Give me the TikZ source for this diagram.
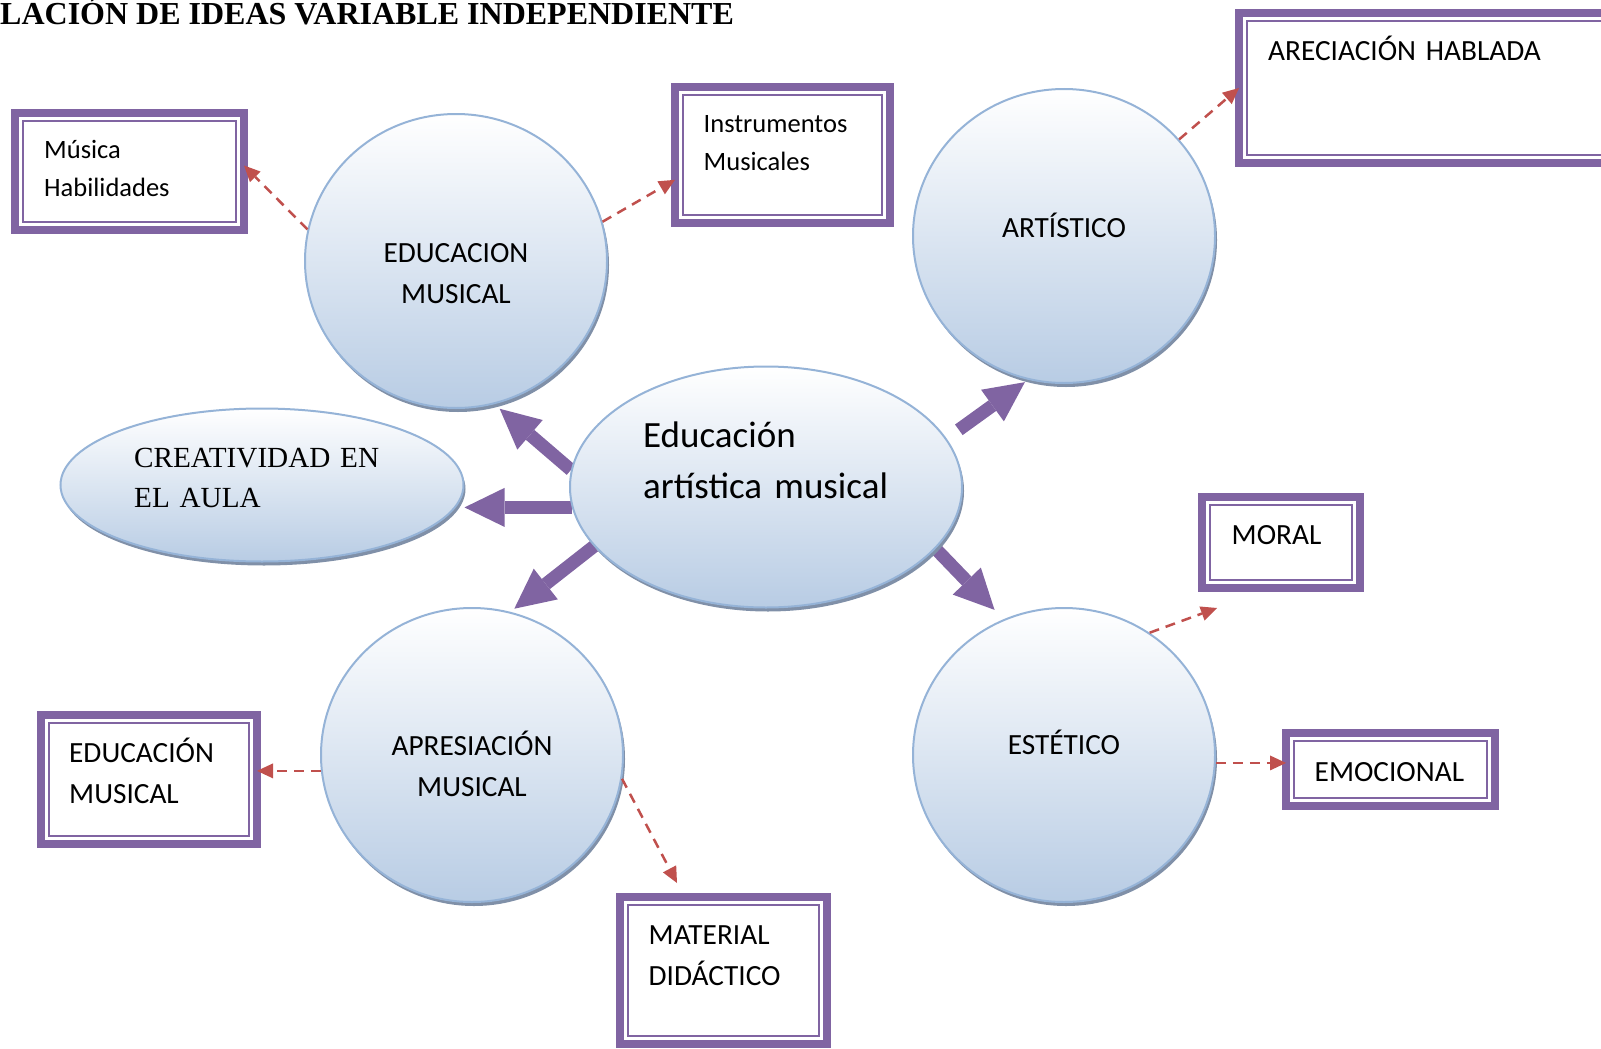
\documentclass[tikz,border=0pt]{standalone}
\usepackage{fontspec}
\setmainfont{Carlito}
\newfontfamily\timesfont{Liberation Serif}
\usetikzlibrary{arrows.meta}
\usetikzlibrary{calc}
\usetikzlibrary{shapes.geometric}
\usetikzlibrary{shadows}
\usetikzlibrary{backgrounds}
\definecolor{boxpurple}{RGB}{128,100,162}
\definecolor{dashred}{RGB}{192,80,77}
\definecolor{bubbleline}{RGB}{149,179,215}
\definecolor{bubblefill}{RGB}{184,204,228}
\definecolor{bubbleshadow}{RGB}{128,144,168}
\newcommand\boxfont{\fontsize{29.3}{41}\selectfont}
\newcommand\smallboxfont{\fontsize{26.5}{38}\selectfont}
\def\bubbleW{302pt}
\def\bubbleH{294pt}

\begin{document}
\begin{tikzpicture}[x=1pt,y=-1pt,
    bubble/.style={
      ellipse, draw=bubbleline, line width=2pt,
      top color=white, bottom color=bubblefill, inner sep=0pt,
      drop shadow={shadow xshift=2pt,shadow yshift=-4pt,fill=bubbleshadow,opacity=1}
    },
    frame/.style={
      rectangle, draw=boxpurple, line width=8pt, fill=white,
      inner sep=0pt, outer sep=0pt,
      path picture={
        \draw[boxpurple,line width=2.3pt]
          ([shift={(8pt,-8pt)}]path picture bounding box.north west) rectangle
          ([shift={(-8pt,8pt)}]path picture bounding box.south east);
      }
    },
    intext/.style={
      inner sep=0pt, anchor=base, text width=300pt, align=center, font=\boxfont
    },
    boxtext/.style={
      inner sep=0pt, anchor=base west, text width=320pt, align=left, font=\boxfont
    },
    bigarrow/.style={
      draw=boxpurple, line width=13pt,
      -{Triangle[length=40pt,width=39pt,line width'=0pt]}
    },
    dasharrow/.style={
      draw=dashred, line width=2.5pt, dash pattern=on 10pt off 7pt,
      -{Triangle[length=16pt,width=15pt,line width'=0pt]}
    }
  ]
    \useasboundingbox (0,0) rectangle (1601,1049);

    % title
    \node[anchor=base west, inner sep=0pt, font=\timesfont\bfseries\fontsize{32}{38}\selectfont]
      (title) at (0,25) {LACIÓN DE IDEAS VARIABLE INDEPENDIENTE};

    % bubbles
    \node[bubble, minimum width=\bubbleW, minimum height=\bubbleH] (educ)  at (456,261)  {};
    \node[bubble, minimum width=\bubbleW, minimum height=\bubbleH] (artis) at (1064,236) {};
    \node[bubble, minimum width=\bubbleW, minimum height=\bubbleH] (apres) at (472,755)  {};
    \node[bubble, minimum width=\bubbleW, minimum height=\bubbleH] (estet) at (1064,755) {};
    \node[bubble, minimum width=392pt, minimum height=241pt]       (centre) at (766,487) {};
    \node[bubble, minimum width=403pt, minimum height=153pt]       (creat)  at (262,485) {};

    \node[intext] (educT)  at (456,262)  {EDUCACION\\MUSICAL};
    \node[intext] (artisT) at (1064,237) {ARTÍSTICO};
    \node[intext] (apresT) at (472,755)  {APRESIACIÓN\\MUSICAL};
    \node[intext] (estetT) at (1064,754) {ESTÉTICO};
    \node[boxtext, text width=330pt, font=\fontsize{37}{51}\selectfont]
      (centreT) at (643,447) {Educación\\artística musical};
    \node[boxtext, font=\timesfont\fontsize{29.2}{40}\selectfont]
      (creatT) at (134,467) {CREATIVIDAD EN\\EL AULA};

    % boxes
    \node[frame, minimum width=229pt, minimum height=117pt] (musica) at (129.5,171.5) {};
    \node[frame, minimum width=215pt, minimum height=136pt] (instr)  at (782.5,155)   {};
    \node[frame, minimum width=381pt, minimum height=150pt] (arec)   at (1429.5,88)   {};
    \node[frame, minimum width=158pt, minimum height=91pt]  (moral)  at (1281,542.5)  {};
    \node[frame, minimum width=209pt, minimum height=73pt]  (emoc)   at (1390.5,769.5) {};
    \node[frame, minimum width=216pt, minimum height=129pt] (edubox) at (149,779.5)   {};
    \node[frame, minimum width=207pt, minimum height=147pt] (mater)  at (723.5,970.5) {};

    \node[boxtext, font=\smallboxfont] (musicaT) at ($(musica.north west)+(29,45)$)   {Música\\Habilidades};
    \node[boxtext, font=\smallboxfont] (instrT)  at ($(instr.north west)+(28.5,45)$)  {Instrumentos\\Musicales};
    \node[boxtext] (arecT)   at ($(arec.north west)+(29,47)$)     {ARECIACIÓN HABLADA};
    \node[boxtext] (moralT)  at ($(moral.north west)+(29.5,47)$)  {MORAL};
    \node[boxtext] (emocT)   at ($(emoc.north west)+(28.5,48)$)   {EMOCIONAL};
    \node[boxtext] (eduboxT) at ($(edubox.north west)+(28,47)$)   {EDUCACIÓN\\MUSICAL};
    \node[boxtext] (materT)  at ($(mater.north west)+(28.5,47)$)  {MATERIAL\\DIDÁCTICO};

    % thick arrows
    \begin{scope}[on background layer]
      \draw[bigarrow, shorten >=7pt] (centre.175) -- (educ.-75);
      \draw[bigarrow] (centre.186) -- (centre.186 -| creat.east);
      \draw[bigarrow, shorten >=5pt] (centre.199) -- (apres.75);
      \draw[bigarrow, shorten <=15pt, shorten >=4pt] (centre.15) -- (artis.-104);
      \draw[bigarrow, shorten >=13pt] (centre.-20) -- (estet.114);
    \end{scope}

    % dashed arrows
    \coordinate (moralIn) at ($(moral.south west)+(15,20)$);
    \coordinate (materIn) at ($(mater.north west)+(57,-14)$);
    \draw[dasharrow] (educ.168)  -- (musica.3);
    \draw[dasharrow] (educ.15)   -- (instr.193);
    \draw[dasharrow] (artis.40)  -- (arec.west);
    \draw[dasharrow] (estet.55)  -- (moralIn);
    \draw[dasharrow] (estet.-3)  -- (estet.-3 -| emoc.west);
    \draw[dasharrow] (apres.186) -- (apres.186 -| edubox.east);
    \draw[dasharrow] (apres.-9)  -- (materIn);
\end{tikzpicture}
\end{document}
